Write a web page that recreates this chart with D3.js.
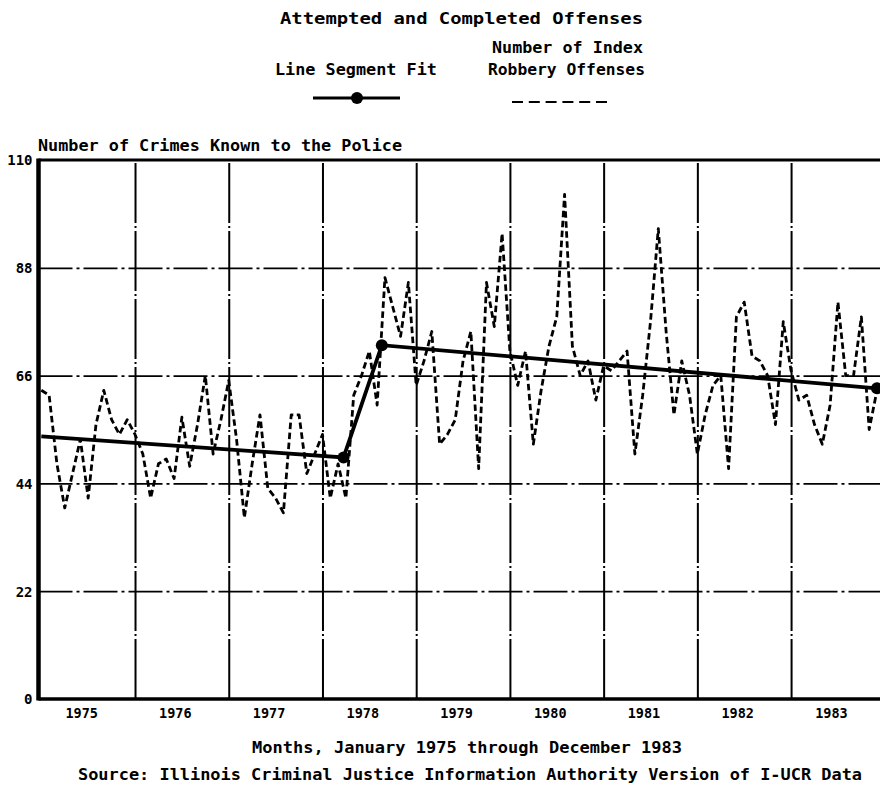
<!DOCTYPE html>
<html><head><meta charset="utf-8">
<script src="https://cdn.jsdelivr.net/npm/d3@7"></script>
<style>
body{margin:0;background:#fff}
svg{display:block}
text{font-family:"DejaVu Sans Mono",monospace;font-weight:bold;fill:#000}
</style>
</head><body><svg id="c" width="880" height="788"></svg>
<script>
// ---- data ----
const yearLabels = ['1975','1976','1977','1978','1979','1980','1981','1982','1983'];
const robbery = [
  63,62,48,39,46,53,41,56,63,57,54,57,
  54,50,41,48,49,45,57.5,47.5,56,66,50,57,
  65,53,37,48,58,43,41,38,58,58,46,50,
  54,41,48,41,62,66,71,60,86,80,74,85,
  64,69,75,52,54,57,69,75,47,85,76,95,
  71,64,71,52,63,72,78,103,72,66,69,61,
  68,67,69,71,50,62,77,96,75,58,69,62,
  50,58,64,66,47,78,81,70,69,66,56,77,
  67,61,62,56,52,60,81,66,66,78,55,63
];
const fitMonths = [0, 38.7, 43.6, 107];
const fitValues = [53.6, 49.3, 72.2, 63.4];
const markerIdx = [1, 2, 3];
const yTicks = [0, 22, 44, 66, 88, 110];
const yGrid = [22, 44, 66, 88];
const titleText = 'Attempted and Completed Offenses';
const legendFit = 'Line Segment Fit';
const legendSeries = ['Number of Index', 'Robbery Offenses'];
const yTitle = 'Number of Crimes Known to the Police';
const xTitle = 'Months, January 1975 through December 1983';
const sourceText = 'Source: Illinois Criminal Justice Information Authority Version of I-UCR Data';

// ---- scales ----
const svg = d3.select('#c');
const x = d3.scaleLinear().domain([0, 108]).range([41.3, 884.8]);
const y = d3.scaleLinear().domain([0, 110]).range([699, 160]);
const left = 38.5, right = 880;

// gridlines (horizontal) via axis
svg.append('g').attr('transform', `translate(${left},0)`)
  .call(d3.axisLeft(y).tickValues(yGrid).tickSize(-(right - left)).tickFormat(''))
  .call(g => g.select('.domain').remove())
  .call(g => g.selectAll('line').attr('stroke', '#000').attr('stroke-width', 1.8)
    .attr('stroke-dasharray', '34,4,3,4'));

// vertical gridlines at year boundaries
const yearBounds = d3.range(1, yearLabels.length).map(i => i * 12);
svg.append('g').attr('transform', `translate(0,${y(0)})`)
  .call(d3.axisBottom(x).tickValues(yearBounds).tickSize(-(y(0) - y(110))).tickFormat(''))
  .call(g => g.select('.domain').remove())
  .call(g => g.selectAll('line').attr('stroke', '#000').attr('stroke-width', 2)
    .attr('stroke-dasharray', '60,3,2,3'));

// frame: top, left, bottom
svg.append('line').attr('x1', left).attr('x2', right).attr('y1', y(110)).attr('y2', y(110))
  .attr('stroke', '#000').attr('stroke-width', 3);
svg.append('line').attr('x1', left).attr('x2', right).attr('y1', y(0)).attr('y2', y(0))
  .attr('stroke', '#000').attr('stroke-width', 3.5);
svg.append('line').attr('x1', left).attr('x2', left).attr('y1', y(110) - 1.5).attr('y2', y(0) + 1.5)
  .attr('stroke', '#000').attr('stroke-width', 4.5);

// y tick labels
svg.append('g').attr('transform', `translate(${left - 4},0)`)
  .call(d3.axisLeft(y).tickValues(yTicks).tickSize(0).tickPadding(2))
  .call(g => g.select('.domain').remove())
  .call(g => g.selectAll('text').attr('font-size', 14).attr('font-family', '"DejaVu Sans Mono",monospace')
    .attr('font-weight', 'bold').attr('fill', '#000').attr('dy', '0.35em'));

// x year labels
svg.append('g').attr('transform', `translate(0,${y(0)})`)
  .call(d3.axisBottom(x).tickValues(yearLabels.map((_, i) => i * 12 + 5.1))
    .tickFormat((d, i) => yearLabels[i]).tickSize(0).tickPadding(9))
  .call(g => g.select('.domain').remove())
  .call(g => g.selectAll('text').attr('font-size', 13.5).attr('font-family', '"DejaVu Sans Mono",monospace')
    .attr('font-weight', 'bold').attr('fill', '#000'));

// robbery series (dashed)
const lineR = d3.line().x((d, i) => x(i)).y(d => y(d));
svg.append('path').datum(robbery).attr('d', lineR)
  .attr('fill', 'none').attr('stroke', '#000').attr('stroke-width', 2.8)
  .attr('stroke-dasharray', '6.5,3.5').attr('stroke-linejoin', 'round');

// line segment fit
const fitData = fitMonths.map((m, i) => [m, fitValues[i]]);
svg.append('path').datum(fitData).attr('d', d3.line().x(d => x(d[0])).y(d => y(d[1])))
  .attr('fill', 'none').attr('stroke', '#000').attr('stroke-width', 3.8);
svg.selectAll('circle.fit').data(markerIdx.map(i => fitData[i])).enter().append('circle')
  .attr('class', 'fit').attr('cx', d => x(d[0])).attr('cy', d => y(d[1])).attr('r', 6).attr('fill', '#000');

// texts
function txt(s, x0, yb, len, size) {
  svg.append('text').attr('x', x0).attr('y', yb).attr('font-size', size)
    .attr('textLength', len).attr('lengthAdjust', 'spacingAndGlyphs').text(s);
}
txt(titleText, 280, 24, 363, 16);
txt(legendSeries[0], 492, 53, 151, 15);
txt(legendFit, 275, 75, 162, 15);
txt(legendSeries[1], 488, 75, 157, 15);
txt(yTitle, 38, 151, 364, 15);
txt(xTitle, 252, 753, 430, 15);
txt(sourceText, 78, 780, 784, 15);

// legend symbols
svg.append('line').attr('x1', 313).attr('x2', 400).attr('y1', 98).attr('y2', 98)
  .attr('stroke', '#000').attr('stroke-width', 3);
svg.append('circle').attr('cx', 357).attr('cy', 98).attr('r', 6).attr('fill', '#000');
svg.append('line').attr('x1', 512).attr('x2', 607).attr('y1', 102).attr('y2', 102)
  .attr('stroke', '#000').attr('stroke-width', 2).attr('stroke-dasharray', '11,5.8');
</script>
</body></html>
